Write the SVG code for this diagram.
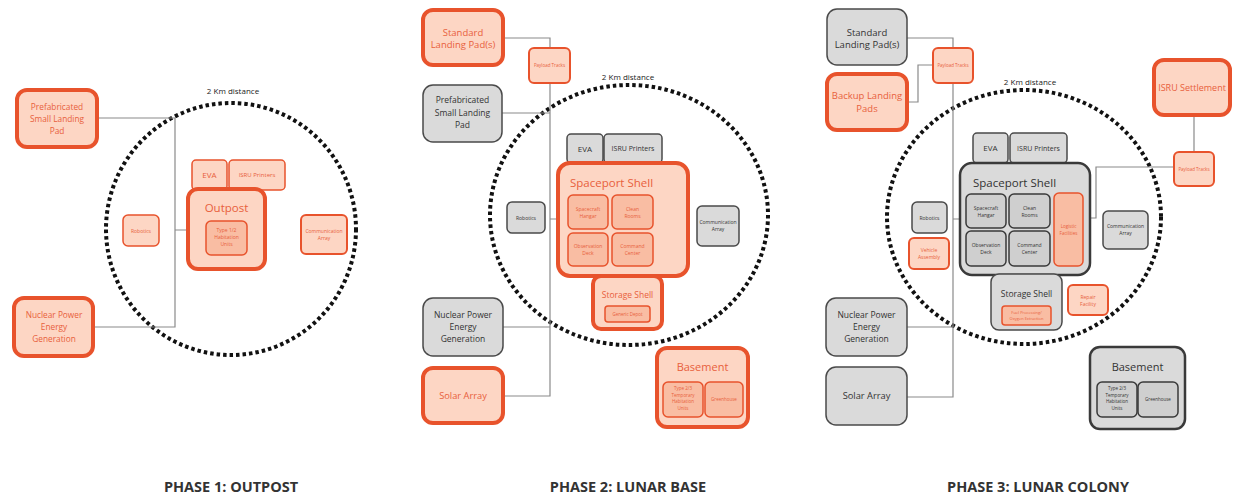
<svg xmlns="http://www.w3.org/2000/svg" width="1238" height="498" viewBox="0 0 1238 498">
<style>
text{font-family:"Open Sans","Noto Sans","Liberation Sans",sans-serif;text-anchor:middle}
.o{fill:#fdd6c4;stroke:#e8532c;stroke-width:4}
.ot{fill:#fdd6c4;stroke:#e8532c;stroke-width:2}
.ot1{fill:#fdd6c4;stroke:#e8532c;stroke-width:1.5}
.oi{fill:#f9bda3;stroke:#e8532c;stroke-width:1.5}
.g{fill:#dadada;stroke:#4a4a4a;stroke-width:1.5}
.gk{fill:#dadada;stroke:#3a3a3a;stroke-width:2.5}
.gi{fill:#cfcfcf;stroke:#3a3a3a;stroke-width:1.5}
.to{fill:#e8603c}
.tg{fill:#333}
.ring{fill:none;stroke:#111;stroke-width:4;stroke-dasharray:3.5 3}
.conn{fill:none;stroke:#8a8a8a;stroke-width:1.2}
.lbl{font-size:8px;fill:#222}
.ph{font-size:14.5px;font-weight:bold;fill:#333}
</style>

<g id="rings">
<ellipse class="ring" cx="231" cy="229" rx="125" ry="126"/>
<ellipse class="ring" cx="629" cy="215" rx="139" ry="130"/>
<ellipse class="ring" cx="1024" cy="217" rx="137" ry="127"/>
<text class="lbl" x="233" y="94">2 Km distance</text>
<text class="lbl" x="628" y="80">2 Km distance</text>
<text class="lbl" x="1030" y="85">2 Km distance</text>
</g>

<g id="connectors">
<path class="conn" d="M97,118 H175 V327 H93 M175,230 H188"/>
<path class="conn" d="M503,38 H550 V48 M550,83 V396 H503 M502,113 H550 M550,327 H503 M550,219 H558"/>
<path class="conn" d="M907,38 H953 V48 M907,102 H918 V65 H933 M953,83 V397 H907 M907,327 H953 M953,219 H960 M1194,115 V152 M1174,167 H1096 V218 H1090"/>
</g>

<!-- PHASE 1 -->
<g id="p1-prefab"><rect class="o" x="17" y="90" width="80" height="57" rx="10"/>
<text class="to" font-size="8.3" x="57" y="110">Prefabricated<tspan x="57" dy="12">Small Landing</tspan><tspan x="57" dy="12">Pad</tspan></text></g>
<g id="p1-nuclear"><rect class="o" x="14" y="298" width="79" height="58" rx="10"/>
<text class="to" font-size="8.3" x="54" y="318">Nuclear Power<tspan x="54" dy="12">Energy</tspan><tspan x="54" dy="12">Generation</tspan></text></g>
<g id="p1-robotics"><rect class="ot1" x="123" y="215" width="36" height="31" rx="5"/>
<text class="to" font-size="5" x="141" y="232.5">Robotics</text></g>
<g id="p1-eva"><rect class="ot1" x="192" y="160" width="35" height="30" rx="4"/>
<text class="to" font-size="8" x="209.5" y="178">EVA</text></g>
<g id="p1-isru"><rect class="ot1" x="229" y="160" width="56" height="30" rx="4"/>
<text class="to" font-size="6" x="257" y="177">ISRU Printers</text></g>
<g id="p1-outpost"><rect class="o" x="188" y="189" width="77" height="80" rx="10"/>
<text class="to" font-size="11.5" x="226.5" y="212">Outpost</text>
<g id="p1-hab"><rect class="oi" x="206" y="221" width="41" height="34" rx="5"/>
<text class="to" font-size="5" x="226.5" y="232">Type 1/2<tspan x="226.5" dy="7">Habitation</tspan><tspan x="226.5" dy="7">Units</tspan></text></g></g>
<g id="p1-comm"><rect class="ot" x="301" y="215" width="46" height="39" rx="5"/>
<text class="to" font-size="5" x="324" y="233">Communication<tspan x="324" dy="7">Array</tspan></text></g>

<!-- PHASE 2 -->
<g id="p2-standard"><rect class="o" x="423" y="10" width="80" height="55" rx="10"/>
<text class="to" font-size="9.5" x="463" y="36">Standard<tspan x="463" dy="12">Landing Pad(s)</tspan></text></g>
<g id="p2-payload"><rect class="ot" x="529" y="48" width="41" height="35" rx="5"/>
<text class="to" font-size="4.5" x="549.5" y="67">Payload Tracks</text></g>
<g id="p2-prefab"><rect class="g" x="423" y="85" width="79" height="57" rx="10"/>
<text class="tg" font-size="8.5" x="462.5" y="103">Prefabricated<tspan x="462.5" dy="12.5">Small Landing</tspan><tspan x="462.5" dy="12.5">Pad</tspan></text></g>
<g id="p2-eva"><rect class="g" x="567" y="134" width="36" height="29" rx="4"/>
<text class="tg" font-size="8" x="585" y="151.5">EVA</text></g>
<g id="p2-isru"><rect class="g" x="604" y="134" width="58" height="29" rx="4"/>
<text class="tg" font-size="7" x="633" y="151">ISRU Printers</text></g>
<g id="p2-robotics"><rect class="g" x="507" y="202" width="38" height="31" rx="5"/>
<text class="tg" font-size="5" x="526" y="219.5">Robotics</text></g>
<g id="p2-spaceport"><rect class="o" x="558" y="163" width="130" height="113" rx="12"/>
<text class="to" font-size="11.5" x="570" y="187" style="text-anchor:start">Spaceport Shell</text>
<g id="p2-hangar"><rect class="oi" x="568" y="195" width="40" height="34" rx="5"/>
<text class="to" font-size="5" x="588" y="211">Spacecraft<tspan x="588" dy="7">Hangar</tspan></text></g>
<g id="p2-clean"><rect class="oi" x="612" y="195" width="41" height="34" rx="5"/>
<text class="to" font-size="5" x="632.5" y="211">Clean<tspan x="632.5" dy="7">Rooms</tspan></text></g>
<g id="p2-obs"><rect class="oi" x="568" y="233" width="40" height="33" rx="5"/>
<text class="to" font-size="5" x="588" y="248">Observation<tspan x="588" dy="7">Deck</tspan></text></g>
<g id="p2-cmd"><rect class="oi" x="612" y="233" width="41" height="33" rx="5"/>
<text class="to" font-size="5" x="632.5" y="248">Command<tspan x="632.5" dy="7">Center</tspan></text></g></g>
<g id="p2-storage"><rect class="o" x="593" y="276" width="69" height="53" rx="8"/>
<text class="to" font-size="8.5" x="627.5" y="298">Storage Shell</text>
<g id="p2-depot"><rect class="oi" x="605" y="306" width="45" height="16" rx="3"/>
<text class="to" font-size="4.5" x="627.5" y="315.5">Generic Depot</text></g></g>
<g id="p2-comm"><rect class="g" x="697" y="206" width="42" height="40" rx="5"/>
<text class="tg" font-size="5" x="718" y="224">Communication<tspan x="718" dy="7">Array</tspan></text></g>
<g id="p2-nuclear"><rect class="g" x="423" y="298" width="80" height="58" rx="10"/>
<text class="tg" font-size="8.5" x="463" y="318">Nuclear Power<tspan x="463" dy="12">Energy</tspan><tspan x="463" dy="12">Generation</tspan></text></g>
<g id="p2-solar"><rect class="o" x="423" y="368" width="80" height="55" rx="10"/>
<text class="to" font-size="9.3" x="463" y="399">Solar Array</text></g>
<g id="p2-basement"><rect class="o" x="657" y="348" width="91" height="79" rx="10"/>
<text class="to" font-size="11" x="702.5" y="371">Basement</text>
<g id="p2-hab"><rect class="oi" x="663" y="382" width="40" height="35" rx="5"/>
<text class="to" font-size="4.5" x="683" y="390">Type 2/3<tspan x="683" dy="6.5">Temporary</tspan><tspan x="683" dy="6.5">Habitation</tspan><tspan x="683" dy="6.5">Units</tspan></text></g>
<g id="p2-green"><rect class="oi" x="705" y="382" width="38" height="35" rx="5"/>
<text class="to" font-size="4.5" x="724" y="401">Greenhouse</text></g></g>

<!-- PHASE 3 -->
<g id="p3-standard"><rect class="g" x="827" y="9" width="80" height="56" rx="10"/>
<text class="tg" font-size="9.5" x="867" y="36">Standard<tspan x="867" dy="12">Landing Pad(s)</tspan></text></g>
<g id="p3-backup"><rect class="o" x="827" y="74" width="80" height="56" rx="10"/>
<text class="to" font-size="9.5" x="867" y="99">Backup Landing<tspan x="867" dy="13">Pads</tspan></text></g>
<g id="p3-payload1"><rect class="ot" x="933" y="48" width="40" height="35" rx="5"/>
<text class="to" font-size="4.5" x="953" y="67">Payload Tracks</text></g>
<g id="p3-eva"><rect class="g" x="973" y="133" width="35" height="30" rx="4"/>
<text class="tg" font-size="8" x="990.5" y="151">EVA</text></g>
<g id="p3-isru"><rect class="g" x="1010" y="133" width="57" height="30" rx="4"/>
<text class="tg" font-size="7" x="1038.5" y="150.5">ISRU Printers</text></g>
<g id="p3-robotics"><rect class="g" x="912" y="202" width="35" height="31" rx="5"/>
<text class="tg" font-size="5" x="929.5" y="219.5">Robotics</text></g>
<g id="p3-vehicle"><rect class="ot" x="909" y="238" width="40" height="31" rx="5"/>
<text class="to" font-size="5" x="929" y="252">Vehicle<tspan x="929" dy="7">Assembly</tspan></text></g>
<g id="p3-spaceport"><rect class="gk" x="960" y="163" width="130" height="112" rx="12"/>
<text class="tg" font-size="11.5" x="973" y="187" style="text-anchor:start">Spaceport Shell</text>
<g id="p3-hangar"><rect class="gi" x="966" y="194" width="40" height="34" rx="5"/>
<text class="tg" font-size="5" x="986" y="210">Spacecraft<tspan x="986" dy="7">Hangar</tspan></text></g>
<g id="p3-clean"><rect class="gi" x="1009" y="194" width="41" height="34" rx="5"/>
<text class="tg" font-size="5" x="1029.5" y="210">Clean<tspan x="1029.5" dy="7">Rooms</tspan></text></g>
<g id="p3-obs"><rect class="gi" x="966" y="231" width="40" height="35" rx="5"/>
<text class="tg" font-size="5" x="986" y="247">Observation<tspan x="986" dy="7">Deck</tspan></text></g>
<g id="p3-cmd"><rect class="gi" x="1009" y="231" width="41" height="35" rx="5"/>
<text class="tg" font-size="5" x="1029.5" y="247">Command<tspan x="1029.5" dy="7">Center</tspan></text></g>
<g id="p3-logistic"><rect class="oi" x="1054" y="193" width="29" height="73" rx="5"/>
<text class="to" font-size="4.5" x="1068.5" y="228">Logistic<tspan x="1068.5" dy="6.5">Facilities</tspan></text></g></g>
<g id="p3-comm"><rect class="g" x="1103" y="211" width="45" height="38" rx="5"/>
<text class="tg" font-size="5" x="1125.5" y="228">Communication<tspan x="1125.5" dy="7">Array</tspan></text></g>
<g id="p3-storage"><rect class="g" x="991" y="274" width="71" height="56" rx="8"/>
<text class="tg" font-size="8.5" x="1026.5" y="297">Storage Shell</text>
<g id="p3-fuel"><rect class="oi" x="1002" y="306" width="49" height="19" rx="3"/>
<text class="to" font-size="4" x="1026.5" y="314">Fuel Processing/<tspan x="1026.5" dy="5.5">Oxygen Extraction</tspan></text></g></g>
<g id="p3-repair"><rect class="ot" x="1068" y="285" width="40" height="30" rx="5"/>
<text class="to" font-size="5" x="1088" y="299">Repair<tspan x="1088" dy="7">Facility</tspan></text></g>
<g id="p3-isru-settlement"><rect class="o" x="1154" y="60" width="76" height="55" rx="10"/>
<text class="to" font-size="9" x="1192" y="91">ISRU Settlement</text></g>
<g id="p3-payload2"><rect class="ot" x="1174" y="152" width="40" height="34" rx="5"/>
<text class="to" font-size="4.5" x="1194" y="170.5">Payload Tracks</text></g>
<g id="p3-nuclear"><rect class="g" x="826" y="298" width="81" height="58" rx="10"/>
<text class="tg" font-size="8.5" x="866.5" y="318">Nuclear Power<tspan x="866.5" dy="12">Energy</tspan><tspan x="866.5" dy="12">Generation</tspan></text></g>
<g id="p3-solar"><rect class="g" x="826" y="367" width="81" height="58" rx="10"/>
<text class="tg" font-size="9.3" x="866.5" y="399">Solar Array</text></g>
<g id="p3-basement"><rect class="gk" x="1090" y="347" width="95" height="82" rx="10"/>
<text class="tg" font-size="11" x="1137.5" y="371">Basement</text>
<g id="p3-hab"><rect class="gi" x="1097" y="382" width="40" height="35" rx="5"/>
<text class="tg" font-size="4.5" x="1117" y="390">Type 2/3<tspan x="1117" dy="6.5">Temporary</tspan><tspan x="1117" dy="6.5">Habitation</tspan><tspan x="1117" dy="6.5">Units</tspan></text></g>
<g id="p3-green"><rect class="gi" x="1138" y="382" width="40" height="35" rx="5"/>
<text class="tg" font-size="4.5" x="1158" y="401">Greenhouse</text></g></g>

<g id="phase-labels">
<text class="ph" x="231" y="492">PHASE 1: OUTPOST</text>
<text class="ph" x="628" y="492">PHASE 2: LUNAR BASE</text>
<text class="ph" x="1038" y="492">PHASE 3: LUNAR COLONY</text>
</g>
</svg>
